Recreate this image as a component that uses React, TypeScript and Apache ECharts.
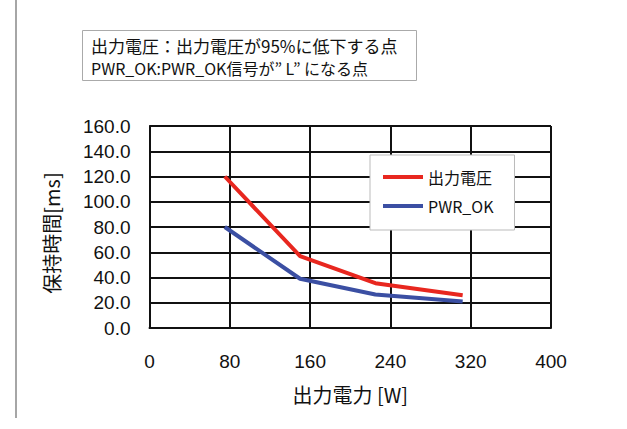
import React, { useEffect, useRef } from "react";
import * as echarts from "echarts";

const powerW = [75, 150, 225, 312];
const outputVoltage = [120, 57, 35.5, 26];
const pwrOk = [80, 39, 26.5, 21];
const seriesNames = ["出力電圧", "PWR_OK"];
const noteLines = [
  "出力電圧：出力電圧が95%に低下する点",
  "PWR_OK:PWR_OK信号が” L” になる点",
];
const xAxisName = "出力電力 [W]";
const yAxisName = "保持時間[ms]";

const JP = '"Noto Sans CJK JP", "Noto Sans", sans-serif';
const NUM = '"Liberation Sans", Arial, sans-serif';

export default function App() {
  const ref = useRef<HTMLDivElement>(null);
  useEffect(() => {
    if (!ref.current) return;
    const chart = echarts.init(ref.current, undefined, { renderer: "svg" });
    chart.setOption({
      animation: false,
      backgroundColor: "#fff",
      grid: { left: 149.5, right: 76, top: 126, bottom: 101, containLabel: false },
      xAxis: {
        type: "value",
        min: 0,
        max: 400,
        interval: 80,
        name: xAxisName,
        nameLocation: "middle",
        nameGap: 56,
        nameTextStyle: { fontFamily: JP, fontSize: 20, color: "#111" },
        axisLine: { show: true, lineStyle: { color: "#111", width: 2 } },
        axisTick: { show: false },
        axisLabel: { margin: 24, fontFamily: NUM, fontSize: 19, color: "#111" },
        splitLine: { show: true, lineStyle: { color: "#111", width: 2 } },
      },
      yAxis: {
        type: "value",
        min: 0,
        max: 160,
        interval: 20,
        axisLine: { show: true, lineStyle: { color: "#111", width: 2 } },
        axisTick: { show: false },
        axisLabel: {
          margin: 19,
          fontFamily: NUM,
          fontSize: 19,
          color: "#111",
          formatter: (v: number) => v.toFixed(1),
        },
        splitLine: { show: true, lineStyle: { color: "#111", width: 2 } },
      },
      legend: {
        left: 370,
        top: 155,
        orient: "vertical",
        icon: "rect",
        itemWidth: 40,
        itemHeight: 4,
        itemGap: 11,
        padding: [13, 21, 15, 13],
        backgroundColor: "#fff",
        borderColor: "#bbb",
        borderWidth: 1,
        textStyle: { fontFamily: JP, fontSize: 16, color: "#111", lineHeight: 18 },
        data: seriesNames,
      },
      series: [
        {
          name: seriesNames[0],
          type: "line",
          data: powerW.map((x, i) => [x, outputVoltage[i]]),
          showSymbol: false,
          symbol: "none",
          lineStyle: { color: "#e8271f", width: 4 },
          itemStyle: { color: "#e8271f" },
          z: 3,
        },
        {
          name: seriesNames[1],
          type: "line",
          data: powerW.map((x, i) => [x, pwrOk[i]]),
          showSymbol: false,
          symbol: "none",
          lineStyle: { color: "#3b4fa3", width: 4 },
          itemStyle: { color: "#3b4fa3" },
          z: 2,
        },
      ],
      graphic: [
        {
          type: "line",
          shape: { x1: 16, y1: 0, x2: 16, y2: 418 },
          style: { stroke: "#888", lineWidth: 1.5 },
        },
        {
          type: "rect",
          shape: { x: 82.5, y: 30.5, width: 334, height: 50 },
          style: { fill: "#fff", stroke: "#aaa", lineWidth: 1 },
        },
        {
          type: "text",
          x: 91,
          y: 45,
          style: {
            text: noteLines[0],
            fontFamily: JP,
            fontSize: 17,
            fill: "#111",
            textVerticalAlign: "middle",
          },
        },
        {
          type: "text",
          x: 91,
          y: 68,
          style: {
            text: noteLines[1],
            fontFamily: JP,
            fontSize: 16,
            fill: "#111",
            textVerticalAlign: "middle",
          },
        },
        {
          type: "text",
          x: 51,
          y: 233,
          rotation: Math.PI / 2,
          style: {
            text: yAxisName,
            fontFamily: JP,
            fontSize: 20,
            fill: "#111",
            textAlign: "center",
            textVerticalAlign: "middle",
          },
        },
      ],
    });
    return () => chart.dispose();
  }, []);
  return (
    <div
      ref={ref}
      style={{ position: "absolute", left: 0, top: 0, width: 627, height: 429 }}
    />
  );
}
